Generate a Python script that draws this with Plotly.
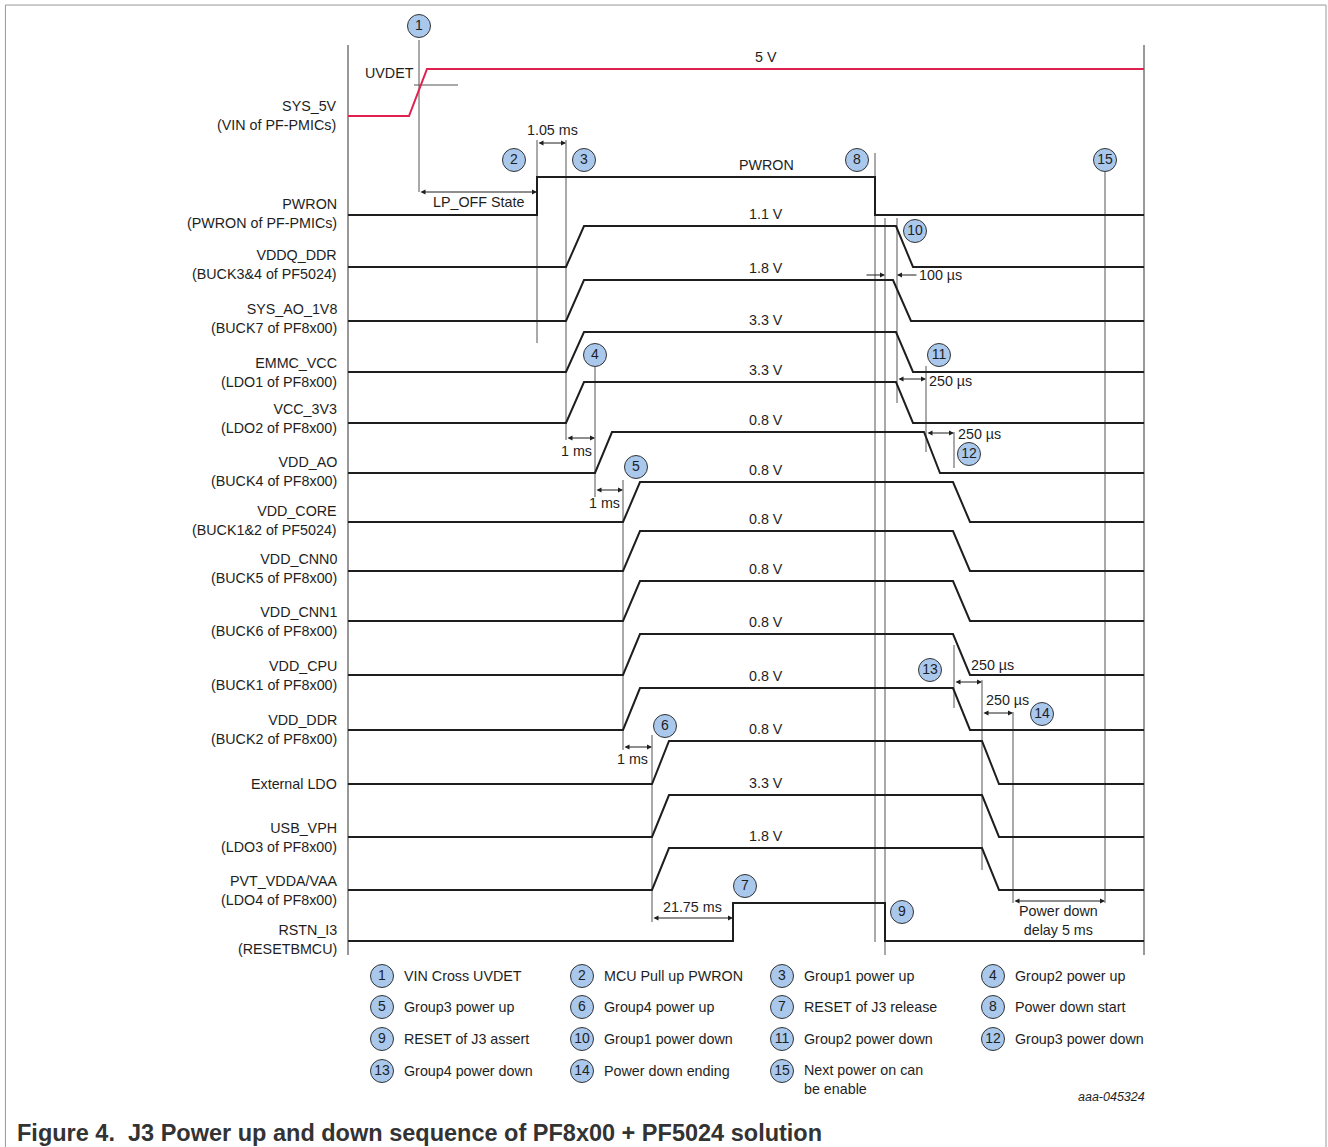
import plotly.graph_objects as go

# ---------------- data (diagram time units / row levels) ----------------
signal_names = ["SYS_5V", "PWRON", "VDDQ_DDR", "SYS_AO_1V8", "EMMC_VCC", "VCC_3V3",
                "VDD_AO", "VDD_CORE", "VDD_CNN0", "VDD_CNN1", "VDD_CPU", "VDD_DDR",
                "External LDO", "USB_VPH", "PVT_VDDA/VAA", "RSTN_I3"]
signal_parts = ["(VIN of PF-PMICs)", "(PWRON of PF-PMICs)", "(BUCK3&4 of PF5024)",
                "(BUCK7 of PF8x00)", "(LDO1 of PF8x00)", "(LDO2 of PF8x00)",
                "(BUCK4 of PF8x00)", "(BUCK1&2 of PF5024)", "(BUCK5 of PF8x00)",
                "(BUCK6 of PF8x00)", "(BUCK1 of PF8x00)", "(BUCK2 of PF8x00)",
                "", "(LDO3 of PF8x00)", "(LDO4 of PF8x00)", "(RESETBMCU)"]
label_level = [107, 205, 256, 310, 364, 410, 463, 512, 560, 613, 667, 721, 784, 829, 882, 931]
low_level = [116, 215, 267, 321, 372, 423, 473, 522, 571, 621, 675, 730, 784, 837, 890, 941]
high_level = [69, 177, 226, 280, 332, 382, 432, 482, 531, 581, 634, 688, 741, 795, 848, 903]
rise_time = [409, 537, 566, 566, 566, 566, 595, 623, 623, 623, 623, 623, 652, 652, 652, 733]
rise_ramp = [18, 0, 18, 18, 18, 18, 17, 17, 17, 17, 17, 17, 17, 17, 17, 0]
fall_time = [None, 875, 896, 893, 896, 896, 924, 953, 953, 953, 953, 953, 982, 982, 982, 885]
fall_ramp = [0, 0, 17, 18, 17, 17, 16, 17, 17, 17, 17, 17, 17, 17, 17, 0]
level_text = ["5 V", "PWRON", "1.1 V", "1.8 V", "3.3 V", "3.3 V", "0.8 V", "0.8 V", "0.8 V",
              "0.8 V", "0.8 V", "0.8 V", "0.8 V", "3.3 V", "1.8 V", ""]
T_START, T_END = 348, 1144
FRAME_TOP, FRAME_BOTTOM = 45, 955

# UVDET threshold
uvdet_t = [414, 458]
uvdet_level = 85

# guide (event) lines: time, top, bottom
guide_t = [419, 537, 566, 595, 623, 652, 875, 885, 897, 926, 954, 954, 982, 1013, 1105]
guide_top = [40, 140, 140, 367, 480, 735, 153, 218, 218, 366, 432, 645, 680, 712, 172]
guide_bottom = [192, 343, 440, 497, 750, 922, 942, 955, 403, 452, 468, 708, 870, 903, 903]

# timing intervals (double arrows): start, end, level, label, label pos
interval_t0 = [419, 537, 566, 595, 623, 652, 897, 926, 954, 982, 1013]
interval_t1 = [537, 566, 595, 623, 652, 733, 926, 954, 982, 1013, 1105]
interval_level = [192, 143, 438, 490, 747, 918, 379, 433, 682, 713, 901]
interval_text = ["LP_OFF State", "1.05 ms", "1 ms", "1 ms", "1 ms", "21.75 ms",
                 "250 µs", "250 µs", "250 µs", "250 µs", "Power down<br>delay 5 ms"]
interval_text_t = [478, 552, 576, 604, 632, 692, 927, 956, 969, 984, 1058]
interval_text_level = [202, 130, 451, 503, 759, 907, 381, 434, 665, 700, 920]
interval_text_anchor = ["center", "center", "center", "center", "center", "center",
                        "left", "left", "left", "left", "center"]

# callout numbers on the diagram
callout_num = list(range(1, 16))
callout_t = [419, 514, 584, 595, 636, 665, 745, 857, 902, 915, 939, 969, 930, 1042, 1105]
callout_level = [26, 160, 160, 355, 467, 726, 886, 160, 912, 231, 355, 454, 670, 714, 160]

# key
key_text = ["VIN Cross UVDET", "MCU Pull up PWRON", "Group1 power up", "Group2 power up",
            "Group3 power up", "Group4 power up", "RESET of J3 release", "Power down start",
            "RESET of J3 assert", "Group1 power down", "Group2 power down", "Group3 power down",
            "Group4 power down", "Power down ending", "Next power on can<br>be enable"]
key_col_t = [382, 582, 782, 993]
key_row_level = [976, 1007, 1039, 1071]

TITLE = "Figure 4.  J3 Power up and down sequence of PF8x00 + PF5024 solution"
DOC_ID = "aaa-045324"

FONT = "Arial, Liberation Sans, Helvetica, sans-serif"
FS = 14.3
BLACK = "#1e1e1e"
GREY = "#555555"
RED = "#e0204f"
BLUE = "#a9c8ec"

fig = go.Figure()

# frame verticals
fig.add_trace(go.Scatter(x=[T_START, T_START, None, T_END, T_END],
                         y=[FRAME_TOP, FRAME_BOTTOM, None, FRAME_TOP, FRAME_BOTTOM],
                         mode="lines", line=dict(color="#333333", width=1), hoverinfo="skip"))

# guide lines
gx, gy = [], []
for t, a, b in zip(guide_t, guide_top, guide_bottom):
    gx += [t, t, None]
    gy += [a, b, None]
gx += [uvdet_t[0], uvdet_t[1], None]
gy += [uvdet_level, uvdet_level, None]
fig.add_trace(go.Scatter(x=gx, y=gy, mode="lines", line=dict(color=GREY, width=1), hoverinfo="skip"))

# signals
for i in range(len(signal_names)):
    lo, hi = low_level[i], high_level[i]
    xs = [T_START, rise_time[i], rise_time[i] + rise_ramp[i]]
    ys = [lo, lo, hi]
    if fall_time[i] is not None:
        xs += [fall_time[i], fall_time[i] + fall_ramp[i]]
        ys += [hi, lo]
        xs += [T_END]
        ys += [lo]
    else:
        xs += [T_END]
        ys += [hi]
    color = RED if i == 0 else BLACK
    fig.add_trace(go.Scatter(x=xs, y=ys, mode="lines", line=dict(color=color, width=2),
                             hoverinfo="skip"))

annotations = []
# left labels
for i in range(len(signal_names)):
    if signal_parts[i]:
        txt = signal_names[i] + "<br>" + signal_parts[i]
        yc = label_level[i] + 8.5
    else:
        txt = signal_names[i]
        yc = label_level[i]
    annotations.append(dict(x=339, y=yc, xref="x", yref="y", text=txt, showarrow=False,
                            xanchor="right", yanchor="middle", align="right",
                            font=dict(size=FS, color=BLACK, family=FONT)))
    if level_text[i]:
        annotations.append(dict(x=766, y=high_level[i] - 12, xref="x", yref="y",
                                text=level_text[i], showarrow=False, xanchor="center",
                                yanchor="middle", font=dict(size=FS, color=BLACK, family=FONT)))

annotations.append(dict(x=389, y=73, xref="x", yref="y", text="UVDET", showarrow=False,
                        xanchor="center", yanchor="middle", font=dict(size=FS, color=BLACK, family=FONT)))

# intervals
for t0, t1, lv, txt, tt, tl, anc in zip(interval_t0, interval_t1, interval_level, interval_text,
                                        interval_text_t, interval_text_level, interval_text_anchor):
    annotations.append(dict(x=t1, y=lv, ax=t0, ay=lv, xref="x", yref="y", axref="x", ayref="y",
                            text="", showarrow=True, arrowhead=2, arrowside="end+start",
                            arrowsize=1, arrowwidth=1, arrowcolor=BLACK, startarrowhead=2,
                            startarrowsize=1, standoff=0, startstandoff=0))
    annotations.append(dict(x=tt, y=tl, xref="x", yref="y", text=txt, showarrow=False,
                            xanchor=anc, yanchor="middle", align="center",
                            font=dict(size=FS, color=BLACK, family=FONT)))

# 100 us inward arrows
annotations.append(dict(x=885, y=275, ax=865, ay=275, xref="x", yref="y", axref="x", ayref="y",
                        text="", showarrow=True, arrowhead=2, arrowsize=1, arrowwidth=1,
                        arrowcolor=BLACK, standoff=0))
annotations.append(dict(x=897, y=275, ax=918, ay=275, xref="x", yref="y", axref="x", ayref="y",
                        text="", showarrow=True, arrowhead=2, arrowsize=1, arrowwidth=1,
                        arrowcolor=BLACK, standoff=0))
annotations.append(dict(x=917, y=275, xref="x", yref="y", text="100 µs", showarrow=False,
                        xanchor="left", yanchor="middle", font=dict(size=FS, color=BLACK, family=FONT)))

# callout circles
fig.add_trace(go.Scatter(x=callout_t, y=callout_level, mode="markers+text",
                         text=[str(n) for n in callout_num], textposition="middle center",
                         textfont=dict(size=14, color=BLACK, family=FONT),
                         marker=dict(size=23, color=BLUE, line=dict(color="#333333", width=1)),
                         hoverinfo="skip"))

# key
kx, ky = [], []
for k, txt in enumerate(key_text):
    col, row = k % 4, k // 4
    kx.append(key_col_t[col])
    ky.append(key_row_level[row])
    yc = key_row_level[row] + (8.5 if "<br>" in txt else 0)
    annotations.append(dict(x=key_col_t[col] + 20, y=yc, xref="x", yref="y", text=txt,
                            showarrow=False, xanchor="left", yanchor="middle", align="left",
                            font=dict(size=FS, color=BLACK, family=FONT)))
fig.add_trace(go.Scatter(x=kx, y=ky, mode="markers+text",
                         text=[str(n) for n in callout_num], textposition="middle center",
                         textfont=dict(size=14, color=BLACK, family=FONT),
                         marker=dict(size=23, color=BLUE, line=dict(color="#333333", width=1)),
                         hoverinfo="skip"))

annotations.append(dict(x=1147, y=1097, xref="x", yref="y", text="<i>" + DOC_ID + "</i>",
                        showarrow=False, xanchor="right", yanchor="middle",
                        font=dict(size=12.5, color=BLACK, family=FONT)))
annotations.append(dict(x=16, y=1147, xref="x", yref="y", text="<b>" + TITLE + "</b>",
                        showarrow=False, xanchor="left", yanchor="bottom", borderpad=0,
                        font=dict(size=23.5, color="#333333", family=FONT)))

fig.update_layout(
    width=1328, height=1147, margin=dict(l=0, r=0, t=0, b=0),
    paper_bgcolor="white", plot_bgcolor="white", showlegend=False,
    xaxis=dict(range=[0, 1328], visible=False, fixedrange=True),
    yaxis=dict(range=[1147, 0], visible=False, fixedrange=True),
    annotations=annotations,
    shapes=[dict(type="path", xref="paper", yref="paper",
                 path="M 0.0041,0 L 0.0041,0.9956 L 0.9985,0.9956 L 0.9985,0",
                 line=dict(color="#999999", width=1))],
)

fig.write_html("out.html", config={"displayModeBar": False},
               post_script="document.body.style.margin='0';document.body.style.overflow='hidden';")
